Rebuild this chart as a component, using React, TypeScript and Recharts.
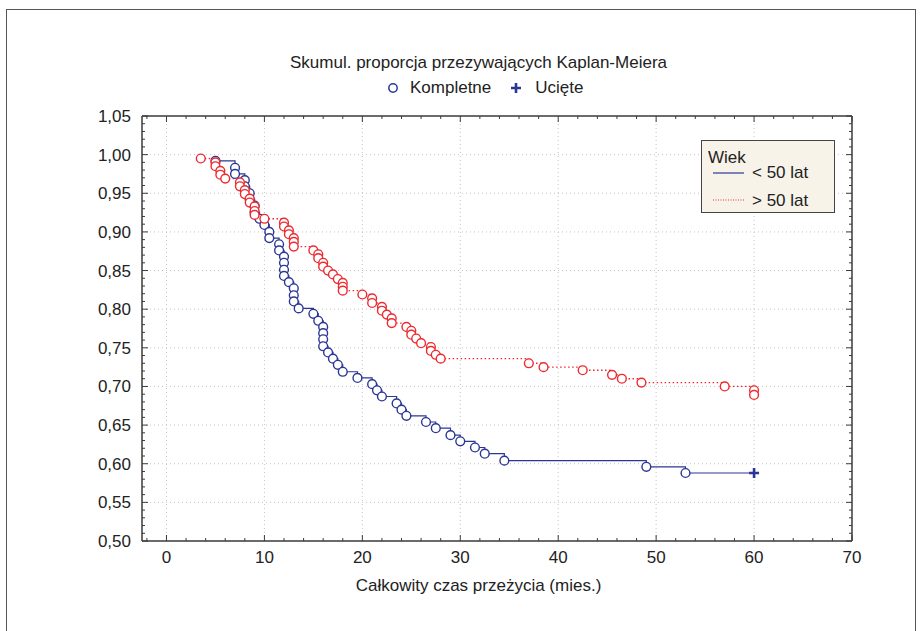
import React from "react";
import { Line, LineChart, ReferenceLine, XAxis, YAxis } from "recharts";

// wiek > 50 lat (czerwona)
const redTime = [
  3.5, 5, 5, 5.5, 5.5, 6, 7.5, 7.5, 8, 8, 8.5, 8.5, 9, 9, 9, 10, 12, 12, 12.5, 12.5,
  13, 13, 13, 15, 15.5, 15.5, 16, 16, 16.5, 17, 17.5, 18, 18, 18, 20, 21, 21, 22, 22,
  22.5, 23, 23, 24.5, 25, 25, 25.5, 26, 27, 27, 27.5, 28, 37, 38.5, 42.5, 45.5, 46.5,
  48.5, 57, 60, 60,
];
const redSurv = [
  0.995, 0.99, 0.985, 0.979, 0.974, 0.969, 0.964, 0.959, 0.954, 0.949, 0.943, 0.938,
  0.933, 0.927, 0.922, 0.917, 0.912, 0.907, 0.902, 0.897, 0.892, 0.887, 0.881, 0.876,
  0.871, 0.866, 0.86, 0.855, 0.85, 0.845, 0.839, 0.834, 0.829, 0.824, 0.819, 0.814,
  0.808, 0.803, 0.798, 0.793, 0.788, 0.782, 0.777, 0.772, 0.767, 0.762, 0.756, 0.751,
  0.746, 0.741, 0.736, 0.73, 0.725, 0.721, 0.715, 0.71, 0.705, 0.7, 0.695, 0.689,
];

// wiek < 50 lat (niebieska)
const blueTime = [
  5, 7, 7, 8, 8, 8.5, 8.5, 9, 9, 9.5, 10, 10.5, 10.5, 11.5, 11.5, 12, 12, 12, 12, 12.5,
  13, 13, 13, 13.5, 15, 15.5, 16, 16, 16, 16, 16.5, 17, 17.5, 18, 19.5, 21, 21.5, 22,
  23.5, 24, 24.5, 26.5, 27.5, 29, 30, 31.5, 32.5, 34.5, 49, 53, 60,
];
const blueSurv = [
  0.992, 0.983, 0.975, 0.967, 0.959, 0.95, 0.942, 0.934, 0.925, 0.917, 0.909, 0.9,
  0.892, 0.884, 0.876, 0.868, 0.86, 0.851, 0.843, 0.835, 0.827, 0.818, 0.81, 0.801,
  0.794, 0.785, 0.777, 0.769, 0.761, 0.752, 0.744, 0.736, 0.728, 0.719, 0.711, 0.703,
  0.695, 0.687, 0.678, 0.67, 0.662, 0.654, 0.646, 0.637, 0.629, 0.621, 0.613, 0.604,
  0.596, 0.588, 0.588,
];
const blueCensoredAt = [60];

const xLabels = [0, 10, 20, 30, 40, 50, 60, 70];
const yLabels = [0.5, 0.55, 0.6, 0.65, 0.7, 0.75, 0.8, 0.85, 0.9, 0.95, 1.0, 1.05];

const redData = redTime.map((t, i) => ({ t, s: redSurv[i], censored: false }));
const blueData = blueTime.map((t, i) => ({
  t,
  s: blueSurv[i],
  censored: i === blueTime.length - 1 && blueCensoredAt.includes(t),
}));

// minor ticks: every 2 months / every 0.01
const xTicks: number[] = [];
for (let v = -2; v <= 70; v += 2) xTicks.push(v);
const yTicks: number[] = [];
for (let v = 50; v <= 105; v += 1) yTicks.push(v / 100);

const isMajorX = (v: number) => v % 10 === 0;
const isMajorY = (v: number) => Math.round(v * 100) % 5 === 0;

const FONT = "'Liberation Sans', Arial, sans-serif";
const AXIS = "#3a3a3a";
const BLUE = "#2b3794";
const RED = "#ec2a30";
const GRID = "#c4c4c4";

const fmt = (v: number) => v.toFixed(2).replace(".", ",");

function dotFor(color: string) {
  return (p: any) => {
    const { cx, cy, index, payload } = p;
    if (payload.censored) {
      return (
        <path key={index} d={`M${cx - 5},${cy}h10M${cx},${cy - 5}v10`} stroke={color} strokeWidth={2.6} />
      );
    }
    return <circle key={index} cx={cx} cy={cy} r={4.4} fill="#fff" stroke={color} strokeWidth={1.4} />;
  };
}

const BottomTick = ({ x, y, payload }: any) => {
  const major = isMajorX(payload.value);
  return (
    <g>
      <line x1={x} y1={y} x2={x} y2={y - (major ? 6 : 3)} stroke={AXIS} />
      {major && xLabels.includes(payload.value) && (
        <text x={x} y={y + 22} textAnchor="middle" fontSize={17} fill="#222" fontFamily={FONT}>
          {payload.value}
        </text>
      )}
    </g>
  );
};
const TopTick = ({ x, y, payload }: any) => (
  <line x1={x} y1={y} x2={x} y2={y + (isMajorX(payload.value) ? 6 : 3)} stroke={AXIS} />
);
const LeftTick = ({ x, y, payload }: any) => {
  const major = isMajorY(payload.value);
  return (
    <g>
      <line x1={x} y1={y} x2={x + (major ? 6 : 3)} y2={y} stroke={AXIS} />
      {major && (
        <text x={x - 11} y={y + 6} textAnchor="end" fontSize={17} fill="#222" fontFamily={FONT}>
          {fmt(payload.value)}
        </text>
      )}
    </g>
  );
};
const RightTick = ({ x, y, payload }: any) => (
  <line x1={x} y1={y} x2={x - (isMajorY(payload.value) ? 6 : 3)} y2={y} stroke={AXIS} />
);

export default function App() {
  return (
    <div style={{ position: "fixed", left: 0, top: 0, width: 921, height: 631, background: "#fff", fontFamily: FONT }}>
      <div style={{ position: "absolute", left: 6, top: 9, width: 908, height: 640, border: "1.5px solid #555" }} />
      <div style={{ position: "absolute", left: 18, width: 921, top: 53, textAlign: "center", fontSize: 17, color: "#222" }}>
        Skumul. proporcja przezywających Kaplan-Meiera
      </div>
      <div style={{ position: "absolute", left: 385, top: 78, fontSize: 17, color: "#222", whiteSpace: "nowrap" }}>
        <svg width={18} height={16} style={{ verticalAlign: "-2px" }}>
          <circle cx={8} cy={9} r={4.2} fill="#fff" stroke={BLUE} strokeWidth={1.5} />
        </svg>
        <span style={{ marginLeft: 7 }}>Kompletne</span>
        <svg width={18} height={16} style={{ marginLeft: 16, verticalAlign: "-2px" }}>
          <path d="M4,9h10M9,4v10" stroke={BLUE} strokeWidth={2.6} />
        </svg>
        <span style={{ marginLeft: 10 }}>Ucięte</span>
      </div>
      <LineChart
        width={921}
        height={631}
        margin={{ top: 0, right: 0, bottom: 0, left: 0 }}
        style={{ position: "absolute", left: 0, top: 0 }}
      >
        <XAxis
          dataKey="t"
          type="number"
          domain={[-2.5, 70]}
          ticks={xTicks}
          interval={0}
          height={90}
          tickSize={0}
          tickMargin={0}
          tick={BottomTick}
          axisLine={{ stroke: AXIS, strokeWidth: 1.5 }}
          allowDataOverflow
        />
        <XAxis
          xAxisId="top"
          orientation="top"
          dataKey="t"
          type="number"
          domain={[-2.5, 70]}
          ticks={xTicks}
          interval={0}
          height={116}
          tickSize={0}
          tickMargin={0}
          tick={TopTick}
          axisLine={{ stroke: AXIS, strokeWidth: 1.5 }}
          allowDataOverflow
        />
        <YAxis
          type="number"
          domain={[0.5, 1.05]}
          ticks={yTicks}
          interval={0}
          width={142}
          tickSize={0}
          tickMargin={0}
          tick={LeftTick}
          axisLine={{ stroke: AXIS, strokeWidth: 1.5 }}
          allowDataOverflow
        />
        <YAxis
          yAxisId="right"
          orientation="right"
          type="number"
          domain={[0.5, 1.05]}
          ticks={yTicks}
          interval={0}
          width={69}
          tickSize={0}
          tickMargin={0}
          tick={RightTick}
          axisLine={{ stroke: AXIS, strokeWidth: 1.5 }}
          allowDataOverflow
        />
        {xLabels.slice(0, -1).map((v) => (
          <ReferenceLine key={"x" + v} x={v} stroke={GRID} strokeDasharray="1 3" />
        ))}
        {yLabels.slice(1, -1).map((v) => (
          <ReferenceLine key={"y" + v} y={v} stroke={GRID} strokeDasharray="1 3" />
        ))}
        <Line
          data={blueData}
          dataKey="s"
          type="stepAfter"
          stroke={BLUE}
          strokeWidth={1.2}
          dot={dotFor(BLUE)}
          activeDot={false}
          isAnimationActive={false}
        />
        <Line
          data={redData}
          dataKey="s"
          type="stepAfter"
          stroke={RED}
          strokeWidth={1.3}
          strokeDasharray="1.5 2.5"
          dot={dotFor(RED)}
          activeDot={false}
          isAnimationActive={false}
        />
      </LineChart>
      <div style={{ position: "absolute", left: 0, width: 921, top: 576, textAlign: "center", fontSize: 17, color: "#222", paddingLeft: 36, boxSizing: "border-box" }}>
        Całkowity czas przeżycia (mies.)
      </div>
      <div
        style={{
          position: "absolute",
          left: 701,
          top: 140,
          width: 132,
          height: 71,
          background: "#f7f3e9",
          border: "1.5px solid #444",
          fontSize: 17,
          color: "#222",
        }}
      >
        <div style={{ position: "absolute", left: 6, top: 7 }}>Wiek</div>
        <svg width={40} height={60} style={{ position: "absolute", left: 8, top: 20 }}>
          <line x1={3} y1={12} x2={34} y2={12} stroke={BLUE} strokeWidth={1.2} />
          <line x1={3} y1={39} x2={34} y2={39} stroke={RED} strokeWidth={1.2} strokeDasharray="1 1.5" />
        </svg>
        <div style={{ position: "absolute", left: 50, top: 22 }}>&lt; 50 lat</div>
        <div style={{ position: "absolute", left: 50, top: 50 }}>&gt; 50 lat</div>
      </div>
    </div>
  );
}
